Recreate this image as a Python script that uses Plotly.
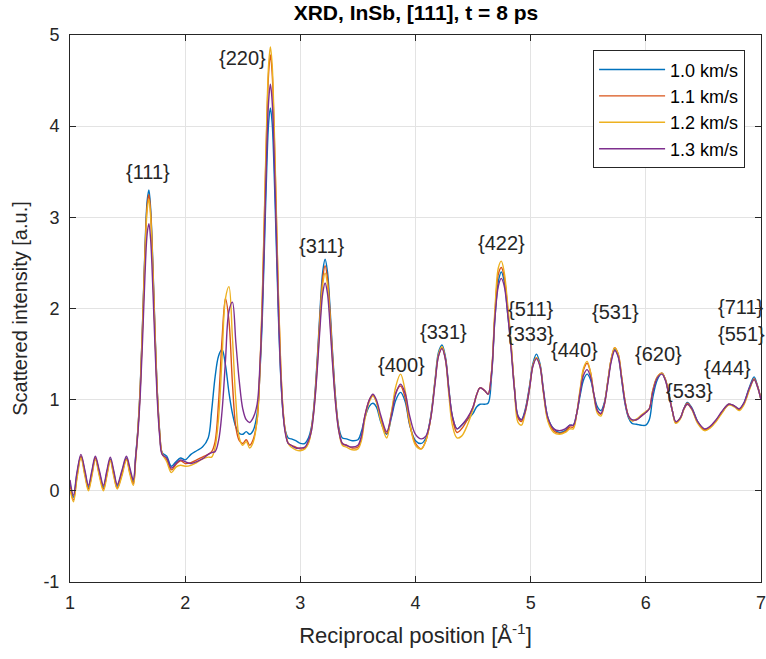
import plotly.graph_objects as go

# Reciprocal position grid (1/Angstrom)
q = [
    1.00, 1.03, 1.06, 1.095, 1.13, 1.16, 1.19, 1.22, 1.255, 1.29, 1.32, 1.35, 1.38, 1.41, 1.45, 1.49, 1.52, 1.55,
    1.57, 1.59, 1.61, 1.63, 1.65, 1.67, 1.685, 1.70, 1.72, 1.74, 1.76, 1.78, 1.80,
    1.84, 1.88, 1.92, 1.96, 2.00, 2.05, 2.10, 2.15, 2.20, 2.23, 2.26, 2.29, 2.32, 2.35, 2.38, 2.41, 2.44, 2.47, 2.50, 2.53, 2.56, 2.59,
    2.625, 2.65, 2.67, 2.69, 2.71, 2.725, 2.74, 2.755, 2.77, 2.79, 2.81, 2.83, 2.85, 2.87, 2.895,
    2.92, 2.96, 3.00, 3.04, 3.07,
    3.095, 3.115, 3.135, 3.155, 3.175, 3.195, 3.215, 3.235, 3.255, 3.275, 3.295, 3.315, 3.335, 3.365,
    3.40, 3.45, 3.50, 3.53,
    3.56, 3.60, 3.63, 3.66, 3.70, 3.75, 3.79, 3.83, 3.87, 3.91, 3.95, 4.00, 4.05,
    4.09, 4.13, 4.17, 4.20, 4.23, 4.26, 4.29, 4.32, 4.36,
    4.40, 4.45, 4.50, 4.53, 4.56, 4.60, 4.63, 4.66,
    4.69, 4.72, 4.745, 4.77, 4.80, 4.83, 4.86, 4.89, 4.92,
    4.95, 4.99, 5.02, 5.05, 5.08, 5.11, 5.15, 5.20, 5.25, 5.30, 5.34,
    5.37, 5.40, 5.43, 5.46, 5.49, 5.52, 5.55, 5.58, 5.61, 5.64, 5.67, 5.70, 5.73, 5.76, 5.79, 5.82, 5.85, 5.88,
    5.92, 5.96, 6.00, 6.03, 6.06, 6.10, 6.14, 6.17, 6.20, 6.23, 6.26, 6.30, 6.33, 6.36, 6.40, 6.45, 6.51, 6.56,
    6.61, 6.66, 6.72, 6.77, 6.81, 6.85, 6.90, 6.94, 6.97, 7.00,
]

v10 = [
    0.08, -0.07, 0.18, 0.38, 0.20, 0.04, 0.20, 0.36, 0.20, 0.04, 0.20, 0.35, 0.20, 0.05, 0.20, 0.36, 0.22, 0.10,
    0.38, 0.69, 1.15, 1.84, 2.62, 3.18, 3.30, 3.10, 2.47, 1.69, 1.04, 0.63, 0.42,
    0.38, 0.27, 0.32, 0.36, 0.34, 0.40, 0.44, 0.48, 0.58, 0.88, 1.25, 1.48, 1.55, 1.38, 1.08, 0.85, 0.70, 0.63, 0.62, 0.65, 0.62, 0.66,
    0.85, 1.32, 1.90, 2.75, 3.60, 4.04, 4.20, 4.04, 3.60, 2.75, 1.90, 1.25, 0.85, 0.66, 0.58,
    0.57, 0.55, 0.52, 0.52, 0.58,
    0.69, 0.89, 1.21, 1.62, 2.07, 2.41, 2.54, 2.41, 2.07, 1.62, 1.21, 0.89, 0.69, 0.58,
    0.57, 0.55, 0.56, 0.65,
    0.80, 0.93, 0.96, 0.92, 0.75, 0.62, 0.80, 1.00, 1.08, 0.98, 0.72, 0.55, 0.52,
    0.58, 0.80, 1.22, 1.52, 1.60, 1.47, 1.12, 0.82, 0.68,
    0.72, 0.78, 0.85, 0.92, 0.95, 0.95, 0.96, 1.25,
    1.90, 2.30, 2.40, 2.30, 1.95, 1.58, 1.12, 0.82, 0.78,
    0.88, 1.15, 1.40, 1.50, 1.40, 1.12, 0.80, 0.68, 0.64, 0.66, 0.72,
    0.72, 0.85, 1.05, 1.22, 1.28, 1.22, 1.05, 0.92, 0.88, 0.97, 1.20, 1.44, 1.55, 1.48, 1.22, 0.95, 0.80, 0.74,
    0.73, 0.72, 0.72, 0.78, 1.02, 1.22, 1.29, 1.22, 1.06, 0.88, 0.75, 0.80, 0.90, 0.97, 0.91, 0.76, 0.67, 0.70,
    0.77, 0.86, 0.95, 0.93, 0.89, 0.96, 1.14, 1.25, 1.15, 1.00,
]

v11 = [
    0.05, -0.10, 0.15, 0.38, 0.18, 0.02, 0.18, 0.36, 0.18, 0.02, 0.18, 0.34, 0.18, 0.03, 0.18, 0.35, 0.20, 0.08,
    0.35, 0.68, 1.13, 1.82, 2.58, 3.13, 3.25, 3.06, 2.43, 1.67, 1.03, 0.62, 0.41,
    0.34, 0.23, 0.29, 0.33, 0.30, 0.31, 0.34, 0.37, 0.40, 0.43, 0.54, 0.97, 1.66, 2.11, 1.87, 1.19, 0.70, 0.55, 0.52, 0.56, 0.50, 0.56,
    0.78, 1.35, 2.10, 3.10, 4.07, 4.59, 4.78, 4.59, 4.07, 3.10, 2.10, 1.35, 0.88, 0.65, 0.52,
    0.50, 0.48, 0.46, 0.47, 0.53,
    0.67, 0.87, 1.18, 1.58, 2.01, 2.34, 2.47, 2.34, 2.01, 1.58, 1.18, 0.87, 0.67, 0.52,
    0.50, 0.47, 0.48, 0.58,
    0.82, 1.00, 1.05, 0.98, 0.78, 0.63, 0.85, 1.08, 1.15, 1.02, 0.73, 0.52, 0.46,
    0.55, 0.78, 1.20, 1.48, 1.57, 1.45, 1.10, 0.80, 0.64,
    0.68, 0.78, 0.92, 1.05, 1.13, 1.10, 1.06, 1.30,
    1.95, 2.38, 2.45, 2.35, 2.00, 1.60, 1.12, 0.80, 0.76,
    0.86, 1.13, 1.38, 1.46, 1.38, 1.10, 0.78, 0.66, 0.63, 0.65, 0.70,
    0.70, 0.85, 1.10, 1.33, 1.40, 1.30, 1.05, 0.88, 0.84, 0.95, 1.20, 1.45, 1.57, 1.50, 1.25, 0.98, 0.82, 0.77,
    0.78, 0.82, 0.86, 0.90, 1.10, 1.25, 1.29, 1.22, 1.06, 0.88, 0.75, 0.80, 0.90, 0.96, 0.90, 0.75, 0.67, 0.70,
    0.77, 0.86, 0.95, 0.93, 0.89, 0.95, 1.12, 1.23, 1.15, 1.00,
]

v12 = [
    0.02, -0.12, 0.13, 0.36, 0.16, 0.00, 0.16, 0.34, 0.16, 0.00, 0.16, 0.33, 0.16, 0.02, 0.16, 0.34, 0.18, 0.06,
    0.33, 0.67, 1.12, 1.79, 2.54, 3.08, 3.20, 3.01, 2.39, 1.65, 1.02, 0.61, 0.41,
    0.32, 0.20, 0.26, 0.28, 0.27, 0.28, 0.31, 0.35, 0.37, 0.37, 0.48, 0.80, 1.45, 2.11, 2.24, 1.69, 0.99, 0.58, 0.50, 0.54, 0.47, 0.53,
    0.78, 1.37, 2.14, 3.15, 4.15, 4.68, 4.87, 4.68, 4.15, 3.15, 2.14, 1.37, 0.89, 0.65, 0.52,
    0.48, 0.45, 0.44, 0.46, 0.52,
    0.65, 0.85, 1.14, 1.53, 1.95, 2.27, 2.39, 2.27, 1.95, 1.53, 1.14, 0.85, 0.65, 0.50,
    0.48, 0.45, 0.46, 0.55,
    0.78, 0.98, 1.04, 0.98, 0.76, 0.58, 0.85, 1.15, 1.28, 1.10, 0.75, 0.50, 0.46,
    0.55, 0.78, 1.20, 1.50, 1.58, 1.44, 1.05, 0.72, 0.58,
    0.60, 0.72, 0.90, 1.05, 1.13, 1.10, 1.06, 1.30,
    2.00, 2.45, 2.52, 2.40, 2.05, 1.62, 1.10, 0.75, 0.72,
    0.84, 1.12, 1.38, 1.46, 1.38, 1.08, 0.76, 0.64, 0.62, 0.64, 0.68,
    0.68, 0.85, 1.12, 1.35, 1.42, 1.30, 1.03, 0.85, 0.82, 0.95, 1.20, 1.45, 1.57, 1.50, 1.25, 0.98, 0.82, 0.77,
    0.79, 0.83, 0.87, 0.90, 1.10, 1.25, 1.29, 1.22, 1.06, 0.88, 0.74, 0.79, 0.89, 0.95, 0.89, 0.74, 0.66, 0.69,
    0.76, 0.85, 0.94, 0.92, 0.88, 0.94, 1.11, 1.22, 1.14, 1.00,
]

v13 = [
    0.12, -0.05, 0.20, 0.40, 0.22, 0.06, 0.22, 0.38, 0.22, 0.06, 0.22, 0.37, 0.22, 0.07, 0.22, 0.38, 0.25, 0.12,
    0.37, 0.64, 1.05, 1.65, 2.33, 2.82, 2.93, 2.76, 2.20, 1.52, 0.95, 0.58, 0.40,
    0.36, 0.25, 0.30, 0.34, 0.32, 0.30, 0.32, 0.35, 0.40, 0.42, 0.43, 0.55, 0.87, 1.43, 1.97, 2.07, 1.63, 1.20, 0.90, 0.78, 0.75, 0.80,
    0.95, 1.40, 2.00, 2.90, 3.80, 4.28, 4.46, 4.28, 3.80, 2.90, 1.98, 1.28, 0.85, 0.63, 0.52,
    0.50, 0.47, 0.47, 0.48, 0.55,
    0.65, 0.84, 1.12, 1.48, 1.87, 2.17, 2.28, 2.17, 1.87, 1.48, 1.12, 0.84, 0.65, 0.52,
    0.50, 0.48, 0.50, 0.60,
    0.82, 1.00, 1.06, 1.00, 0.82, 0.65, 0.82, 1.07, 1.17, 1.07, 0.82, 0.62, 0.57,
    0.60, 0.78, 1.18, 1.48, 1.56, 1.44, 1.10, 0.82, 0.68,
    0.72, 0.80, 0.92, 1.05, 1.13, 1.10, 1.06, 1.28,
    1.90, 2.25, 2.33, 2.25, 1.95, 1.55, 1.10, 0.82, 0.78,
    0.86, 1.12, 1.37, 1.45, 1.37, 1.10, 0.80, 0.68, 0.66, 0.68, 0.72,
    0.72, 0.85, 1.08, 1.27, 1.33, 1.25, 1.05, 0.88, 0.85, 0.95, 1.18, 1.42, 1.54, 1.47, 1.23, 0.97, 0.82, 0.78,
    0.78, 0.82, 0.86, 0.90, 1.08, 1.24, 1.28, 1.21, 1.05, 0.88, 0.76, 0.80, 0.90, 0.95, 0.90, 0.76, 0.68, 0.71,
    0.78, 0.87, 0.95, 0.93, 0.90, 0.96, 1.13, 1.22, 1.14, 1.00,
]

series_names = ["1.0 km/s", "1.1 km/s", "1.2 km/s", "1.3 km/s"]
series_values = [v10, v11, v12, v13]
series_colors = ["#0072BD", "#D95319", "#EDB120", "#7E2F8E"]

peak_labels = ["{111}", "{220}", "{311}", "{400}", "{331}", "{422}", "{511}", "{333}",
               "{440}", "{531}", "{620}", "{533}", "{444}", "{711}", "{551}"]
peak_label_x = [1.68, 2.50, 3.19, 3.88, 4.24, 4.75, 5.00, 5.00, 5.38, 5.74, 6.11, 6.38, 6.71, 6.83, 6.83]
peak_label_y = [3.50, 4.75, 2.69, 1.38, 1.74, 2.72, 2.00, 1.72, 1.55, 1.96, 1.50, 1.09, 1.35, 2.02, 1.72]

x_ticks = [1, 2, 3, 4, 5, 6, 7]
x_tick_text = ["1", "2", "3", "4", "5", "6", "7"]
y_ticks = [-1, 0, 1, 2, 3, 4, 5]
y_tick_text = ["-1", "0", "1", "2", "3", "4", "5"]

for arr in series_values:
    assert len(arr) == len(q), (len(arr), len(q))

FONT = "Liberation Sans, Arial, Helvetica, sans-serif"
INK = "#262626"

fig = go.Figure()
for name, vals, col in zip(series_names, series_values, series_colors):
    fig.add_trace(go.Scatter(
        x=q, y=vals, mode="lines", name=name,
        line=dict(color=col, width=1.4, shape="spline", smoothing=1.0),
    ))

for txt, lx, ly in zip(peak_labels, peak_label_x, peak_label_y):
    fig.add_annotation(x=lx, y=ly, xref="x", yref="y", text=txt, showarrow=False,
                       font=dict(family=FONT, size=20, color=INK))

axis_common = dict(
    showline=True, linecolor=INK, linewidth=1, mirror="ticks",
    ticks="inside", ticklen=6, tickcolor=INK, tickwidth=1,
    showgrid=True, gridcolor="#e3e3e3", gridwidth=1, zeroline=False,
    tickfont=dict(family=FONT, size=18, color=INK),
    automargin=False, ticklabeloverflow="allow",
)

fig.update_layout(
    width=766, height=659,
    margin=dict(l=70, r=5, t=35, b=77),
    paper_bgcolor="white", plot_bgcolor="white",
    title=dict(text="<b>XRD, InSb, [111], t = 8 ps</b>", x=0.543, xanchor="center",
               y=0.981, yanchor="middle",
               font=dict(family=FONT, size=21, color="black")),
    xaxis=dict(range=[1, 7], tickvals=x_ticks, ticktext=x_tick_text, ticklabelstandoff=4,
               title=dict(text="Reciprocal position [Å<sup>-1</sup>]", standoff=16,
                          font=dict(family=FONT, size=22, color=INK)),
               **axis_common),
    yaxis=dict(range=[-1, 5], tickvals=y_ticks, ticktext=y_tick_text, ticklabelstandoff=6,
               title=dict(text="Scattered intensity [a.u.]", standoff=10,
                          font=dict(family=FONT, size=20, color=INK)),
               **axis_common),
    legend=dict(x=0.757, y=0.972, xanchor="left", yanchor="top",
                bgcolor="white", bordercolor=INK, borderwidth=1,
                font=dict(family=FONT, size=18, color="black"),
                itemwidth=66, tracegroupgap=0),
    showlegend=True,
)

fig.write_html("out.html")
